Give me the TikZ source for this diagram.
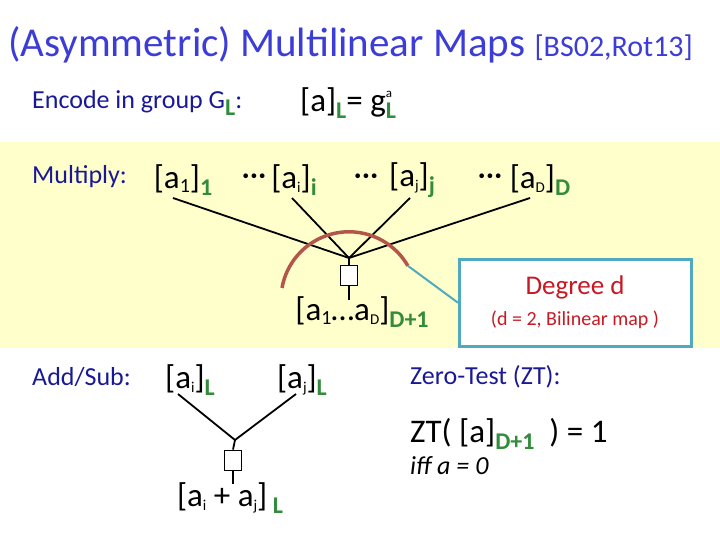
\documentclass[tikz,border=0pt]{standalone}
\usepackage{fontspec}
\setmainfont{Carlito}
\definecolor{ttl}{RGB}{60,60,215}
\definecolor{lbl}{RGB}{25,25,150}
\definecolor{grn}{RGB}{50,140,60}
\definecolor{bandc}{RGB}{255,255,204}
\definecolor{arcc}{RGB}{180,85,75}
\definecolor{boxc}{RGB}{80,170,190}
\definecolor{degc}{RGB}{200,25,35}
\newcommand{\gs}[1]{\raisebox{-7pt}{\fontsize{24}{24}\selectfont\bfseries\color{grn}#1}}
\newcommand{\ls}[1]{\raisebox{-4pt}{\fontsize{20}{20}\selectfont #1}}
\newcommand{\ts}[1]{\raisebox{-4pt}{\fontsize{15}{15}\selectfont #1}}
\begin{document}
\begin{tikzpicture}[x=1pt,y=-1pt,
  lab/.style={anchor=west,text=lbl,font=\fontsize{26}{28}\selectfont,inner sep=0pt},
  el/.style={font=\fontsize{33}{35}\selectfont,inner sep=0pt},
  gate/.style={draw,thick,minimum width=17pt,minimum height=20pt,inner sep=0pt,fill=white},
  wire/.style={line width=1.8pt}]
\useasboundingbox (0,0) rectangle (720,540);
\fill[bandc] (0,142) rectangle (720,348);
\node[anchor=west,inner sep=0pt,text=ttl] (title) at (8,45) {\fontsize{41}{43}\selectfont (Asymmetric) Multilinear Maps \fontsize{30}{32}\selectfont[BS02,Rot13]};
\node[lab] (enc) at (32,103) {Encode in group G\gs{L}:};
\node[el,anchor=west] (encf) at (300,103) {[a]\gs{L}= g\rlap{\raisebox{14pt}{\fontsize{13}{13}\selectfont a}}\gs{L}};
\node[lab] (mul) at (32,177) {Multiply:};
\node[el] (m1) at (183,180) {[a\ls{1}]\gs{1}};
\node[el] (d1) at (254,180) {···};
\node[el] (mi) at (294,180) {[a\ts{i}]\gs{i}};
\node[el] (d2) at (366,180) {···};
\node[el] (mj) at (412,180) {[a\ts{j}]\gs{j}};
\node[el] (d3) at (490,180) {···};
\node[el] (mD) at (540,180) {[a\ts{D}]\gs{D}};
\coordinate (apex) at (349,258);
\foreach \n/\x in {m1/173,mi/292,mj/410,mD/530}
  \draw[wire] (\x,198) -- (apex);
\node[gate] (g1) at (349,275) {};
\draw[wire] (apex) -- (g1.north);
\node[el] (prod) at (362,312) {[a\ls{1}…a\ts{D}]\gs{D+1}};
\draw[wire] (g1.south) -- (349,300);
\draw[arcc,line width=3.5pt] (282,288) arc[start angle=170,end angle=30,radius=68pt] coordinate (arcend);
\node[draw=boxc,line width=2.5pt,fill=white,minimum width=232pt,minimum height=87pt,anchor=north west] (deg) at (458,258) {};
\node[text=degc,font=\fontsize{27}{29}\selectfont] (degt) at (575,287) {Degree d};
\node[text=degc,font=\fontsize{20}{22}\selectfont] (degs) at (575,320) {(d = 2, Bilinear map )};
\draw[boxc,line width=2pt] (arcend) -- (deg.west);
\node[lab] (add) at (32,377) {Add/Sub:};
\node[el] (ai) at (190,380) {[a\ts{i}]\gs{L}};
\node[el] (aj) at (302,380) {[a\ts{j}]\gs{L}};
\coordinate (apex2) at (235,440);
\draw[wire] (178,394) -- (apex2) -- (296,394);
\node[gate] (g2) at (233,460) {};
\draw[wire] (apex2) -- (g2.north);
\draw[wire] (g2.south) -- (233,484);
\node[el] (sum) at (230,498) {[a\ts{i} + a\ts{j}]\,\gs{L}};
\node[lab] (zt) at (410,377) {Zero-Test (ZT):};
\node[el,anchor=west] (ztf) at (410,434) {ZT( [a]\gs{D+1}\ \ ) = 1};
\node[anchor=west,inner sep=0pt,font=\fontsize{26}{28}\selectfont\itshape] (iff) at (410,466) {iff a = 0};
\end{tikzpicture}
\end{document}
